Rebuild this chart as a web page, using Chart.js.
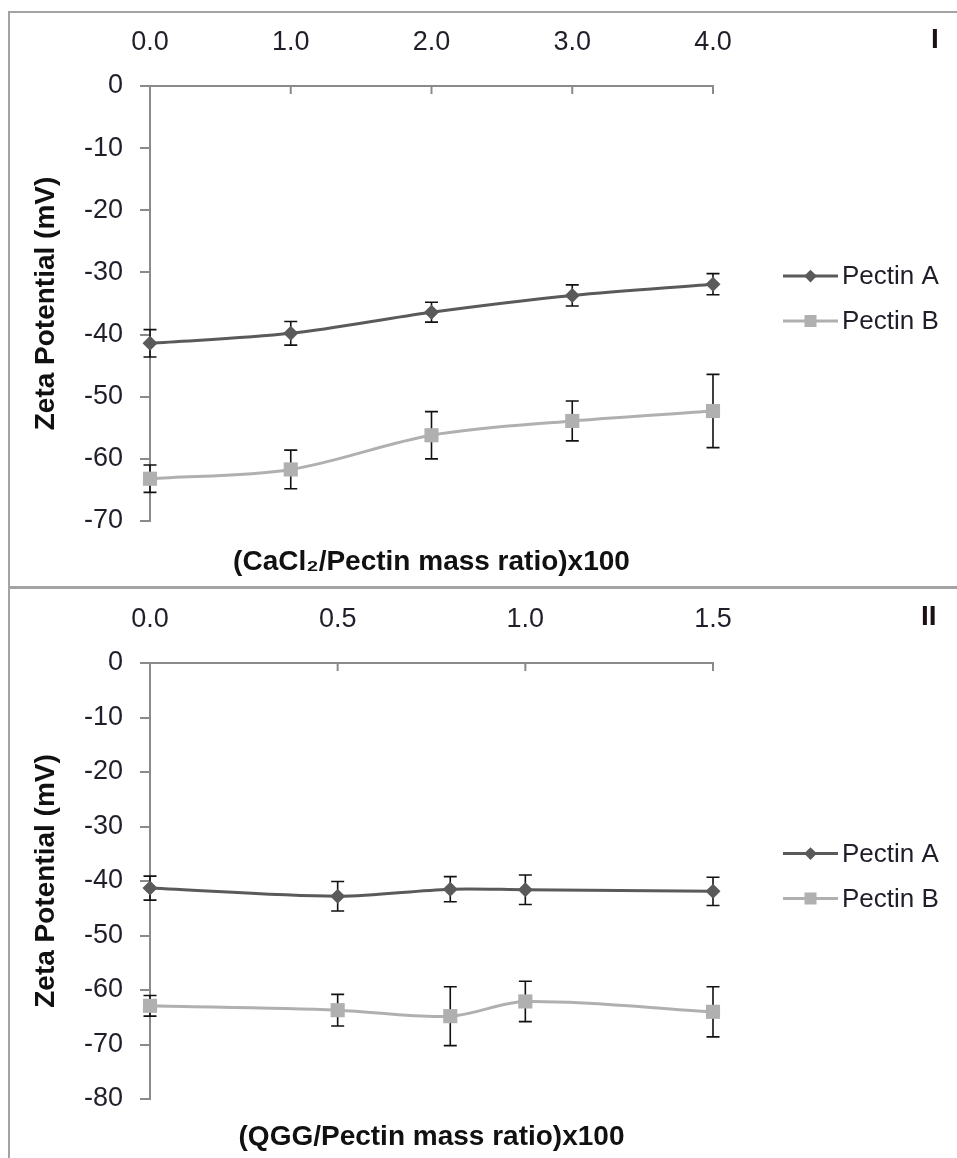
<!DOCTYPE html>
<html>
<head>
<meta charset="utf-8">
<script src="https://cdn.jsdelivr.net/npm/chart.js@4.4.1/dist/chart.umd.min.js"></script>
<style>
body { margin: 0; background: #fff; width: 957px; height: 1158px; overflow: hidden; position: relative; font-family: "Liberation Sans", Arial, sans-serif; }
.box { position: absolute; left: 8px; width: 1000px; border: 2px solid #a3a3a3; box-sizing: border-box; }
canvas { position: absolute; left: 0; }
.tag { position: absolute; font-weight: bold; font-size: 28px; color: #1c1016; }
</style>
</head>
<body>
<div class="box" style="top:11px;height:577px"></div>
<div class="box" style="top:587px;height:700px"></div>
<canvas id="c1" width="957" height="587" style="top:0"></canvas>
<canvas id="c2" width="957" height="571" style="top:587px"></canvas>
<div class="tag" style="left:931px;top:23px">I</div>
<div class="tag" style="left:921px;top:600px">II</div>
<script>
// panel I - CaCl2
const caRatio = [0, 1, 2, 3, 4];
const caPectinA = [-41.4, -39.8, -36.4, -33.7, -31.9];
const caPectinAErr = [2.2, 1.9, 1.6, 1.7, 1.7];
const caPectinB = [-63.2, -61.7, -56.2, -53.9, -52.3];
const caPectinBErr = [2.2, 3.1, 3.8, 3.2, 5.9];

// panel II - QGG
const qggRatio = [0, 0.5, 0.8, 1.0, 1.5];
const qggPectinA = [-41.3, -42.8, -41.5, -41.6, -41.9];
const qggPectinAErr = [2.2, 2.7, 2.3, 2.7, 2.6];
const qggPectinB = [-62.9, -63.7, -64.8, -62.1, -64.0];
const qggPectinBErr = [1.9, 2.9, 5.4, 3.7, 4.6];

const seriesLabels = ['Pectin A', 'Pectin B'];

const axisGrey = '#8a8a8a';
const textCol = '#1f1f2a';
Chart.defaults.font.family = '"Liberation Sans", Arial, sans-serif';

// error bars, inward x ticks and the line+marker legend
const extras = {
  id: 'extras',
  beforeDatasetsDraw(chart) {
    const {ctx, scales: {x, y}} = chart;
    ctx.save();
    ctx.strokeStyle = '#111';
    ctx.lineWidth = 1.6;
    chart.data.datasets.forEach(ds => {
      ds.data.forEach((p, i) => {
        const px = x.getPixelForValue(p.x);
        const top = y.getPixelForValue(p.y + ds.errors[i]);
        const bot = y.getPixelForValue(p.y - ds.errors[i]);
        ctx.beginPath();
        ctx.moveTo(px, top); ctx.lineTo(px, bot);
        ctx.moveTo(px - 6.5, top); ctx.lineTo(px + 6.5, top);
        ctx.moveTo(px - 6.5, bot); ctx.lineTo(px + 6.5, bot);
        ctx.stroke();
      });
    });
    ctx.restore();
  },
  afterDraw(chart) {
    const {ctx, chartArea, scales: {x}} = chart;
    ctx.save();
    ctx.strokeStyle = axisGrey;
    ctx.lineWidth = 2;
    x.ticks.forEach(t => {
      const px = x.getPixelForValue(t.value);
      ctx.beginPath();
      ctx.moveTo(px, chartArea.top);
      ctx.lineTo(px, chartArea.top + 8);
      ctx.stroke();
    });
    const cy = (chartArea.top + chartArea.bottom) / 2 - 5;
    const x0 = chartArea.right + 70;
    chart.data.datasets.forEach((ds, i) => {
      const ly = cy + (i - 0.5) * 45;
      ctx.strokeStyle = ds.borderColor;
      ctx.lineWidth = 3;
      ctx.beginPath();
      ctx.moveTo(x0, ly); ctx.lineTo(x0 + 55, ly);
      ctx.stroke();
      ctx.fillStyle = ds.backgroundColor;
      Chart.helpers.drawPoint(ctx, {pointStyle: ds.pointStyle, radius: ds.pointRadius * 0.85, rotation: 0, borderWidth: 0}, x0 + 27.5, ly);
      ctx.fillStyle = textCol;
      ctx.font = '26px "Liberation Sans", Arial, sans-serif';
      ctx.textBaseline = 'middle';
      ctx.textAlign = 'left';
      ctx.fillText(ds.label, x0 + 59, ly + 1);
    });
    ctx.restore();
  }
};

function series(label, xs, ys, errs, col, style, r) {
  return {
    label: label,
    data: xs.map((v, i) => ({x: v, y: ys[i]})),
    errors: errs,
    borderColor: col,
    backgroundColor: col,
    borderWidth: 3,
    pointStyle: style,
    pointRadius: r,
    pointBorderWidth: 0,
    showLine: true,
    tension: 0.33,
    clip: false
  };
}

function makeChart(id, cfg) {
  return new Chart(document.getElementById(id), {
    type: 'scatter',
    data: {
      datasets: [
        series(seriesLabels[0], cfg.xs, cfg.a, cfg.aErr, '#5a5a5a', 'rectRot', 7.5),
        series(seriesLabels[1], cfg.xs, cfg.b, cfg.bErr, '#b0b0b0', 'rect', 10)
      ]
    },
    options: {
      responsive: false,
      animation: false,
      devicePixelRatio: 1,
      layout: {padding: {left: 25, right: 244, top: 0, bottom: 0}},
      plugins: {legend: {display: false}, tooltip: {enabled: false}},
      scales: {
        x: {
          type: 'linear', position: 'top', min: 0, max: cfg.xMax,
          ticks: {stepSize: cfg.xStep, padding: 27, maxRotation: 0, color: textCol, font: {size: 27},
            callback: v => v.toFixed(1)},
          grid: {drawOnChartArea: false, drawTicks: false, color: axisGrey},
          border: {color: axisGrey, width: 2},
          afterFit(s) { s.height = cfg.topH; }
        },
        x2: {
          type: 'linear', position: 'bottom', min: 0, max: cfg.xMax,
          ticks: {display: false},
          grid: {display: false},
          border: {display: false},
          title: {display: true, text: cfg.xTitle, color: '#111', font: {size: 28, weight: 'bold'},
            padding: {top: 0, bottom: cfg.titlePad}},
          afterFit(s) { s.height = cfg.bottomH; }
        },
        y: {
          min: cfg.yMin, max: 0,
          ticks: {stepSize: 10, padding: 17, color: textCol, font: {size: 27},
            callback: v => String(v)},
          grid: {drawOnChartArea: false, tickLength: 10, color: axisGrey, tickColor: axisGrey, lineWidth: 2},
          border: {color: axisGrey, width: 2},
          title: {display: true, text: 'Zeta Potential (mV)', color: '#111', font: {size: 28, weight: 'bold'},
            padding: {top: 4, bottom: 0}},
          afterFit(s) { s.width = 125; }
        }
      }
    },
    plugins: [extras]
  });
}

makeChart('c1', {
  xs: caRatio, a: caPectinA, aErr: caPectinAErr, b: caPectinB, bErr: caPectinBErr,
  xMax: 4, xStep: 1, yMin: -70, topH: 86, bottomH: 66, titlePad: 8,
  xTitle: '(CaCl\u2082/Pectin mass ratio)x100'
});
makeChart('c2', {
  xs: qggRatio, a: qggPectinA, aErr: qggPectinAErr, b: qggPectinB, bErr: qggPectinBErr,
  xMax: 1.5, xStep: 0.5, yMin: -80, topH: 76, bottomH: 59, titlePad: 4,
  xTitle: '(QGG/Pectin mass ratio)x100'
});
</script>
</body>
</html>
